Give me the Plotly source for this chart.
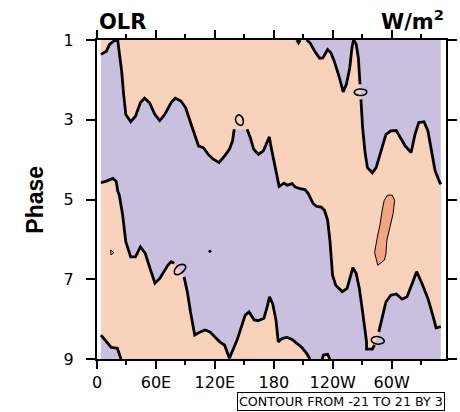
import plotly.graph_objects as go

# ---- composite OLR anomaly (W/m2) by MJO phase: zero-contour geometry (lon, phase) ----
LON_EDGE = [4.0, 350.0]          # longitudes covered by the field
PHASE_EDGE = [1.0, 9.0]

# north-west corner branch (touches the top edge)
c0_lon = [4.0, 9.6, 12.8, 16.2, 18.5]
c0_ph = [1.36, 1.28, 1.11, 1.03, 1.0]

# main diagonal zero line, three pieces (broken around small closed contours)
l1a_lon = [18.5, 21.1, 22.7, 25.1, 27.1, 29.3, 34.3, 39.2, 44.2, 48.4, 53.4, 59.0, 63.9, 68.9,
           75.5, 79.7, 85.4, 90.3, 95.2, 100.2, 103.4, 108.4, 113.3, 118.3, 124.2, 129.8, 134.8,
           138.0, 139.7]
l1a_ph = [1.0, 1.01, 1.28, 1.78, 2.36, 2.87, 3.05, 2.91, 2.57, 2.46, 2.57, 2.87, 3.02, 2.87,
          2.57, 2.46, 2.53, 2.70, 3.07, 3.45, 3.66, 3.70, 3.87, 3.99, 4.07, 3.91, 3.74,
          3.53, 3.24]
l1b_lon = [152.8, 156.1, 159.5, 164.4, 169.3, 174.3, 175.5, 177.2, 180.5, 183.8, 185.4, 190.4,
           193.6, 198.6, 201.9, 206.9, 211.8, 215.1, 220.0, 223.3, 228.2, 231.6, 234.8, 237.1,
           239.1, 239.8, 243.0, 249.7, 254.6, 260.5, 263.8, 267.1, 270.4, 272.7, 274.4, 274.4,
           280.3, 282.6]
l1b_ph = [3.24, 3.45, 3.74, 3.87, 3.78, 3.49, 3.43, 3.68, 4.10, 4.52, 4.67, 4.59,
          4.64, 4.60, 4.69, 4.73, 4.75, 4.85, 5.10, 5.17, 5.19, 5.27, 5.52, 6.02,
          6.60, 6.90, 7.15, 7.31, 7.23, 6.71, 6.85, 7.23, 7.82, 8.32, 8.57, 8.75,
          8.75, 8.65]
l1c_lon = [286.9, 290.2, 294.1, 299.1, 304.7, 310.6, 315.6, 320.5, 325.4, 330.4, 336.9, 341.8,
           345.2, 350.0]
l1c_ph = [8.32, 7.94, 7.57, 7.40, 7.37, 7.50, 7.44, 7.13, 6.81, 7.08, 7.48, 7.90, 8.22, 8.19]

# north-east zero line (pocket + spike to the top, then east to the edge)
l2a_lon = [213.4, 216.8, 221.7, 226.6, 229.9, 234.8, 238.1, 241.5, 246.4, 250.6, 253.9, 257.3,
           259.5, 261.2, 263.8, 266.1, 267.1, 267.8]
l2a_ph = [1.0, 1.07, 1.28, 1.46, 1.45, 1.24, 1.32, 1.53, 1.91, 2.30, 2.11, 1.70,
          1.20, 1.0, 1.10, 1.45, 1.86, 2.11]
l2b_lon = [268.7, 270.4, 272.7, 275.3, 280.3, 284.2, 289.2, 294.1, 299.1, 304.7, 308.9, 313.9,
           319.8, 323.7, 327.6, 332.9, 336.9, 340.2, 344.2, 348.4, 350.0]
l2b_ph = [2.49, 3.20, 3.78, 4.20, 4.33, 4.20, 3.78, 3.37, 3.28, 3.27, 3.45, 3.66,
          3.82, 3.37, 3.07, 3.05, 3.28, 3.70, 4.28, 4.54, 4.62]

# small negative notch at the top edge
notch_lon = [203.5, 205.2, 206.9]
notch_ph = [1.0, 1.07, 1.0]

# south-west zero line
l3a_lon = [4.0, 9.6, 16.2, 19.5, 21.1, 22.7, 26.1, 29.3, 34.3, 39.2, 44.2, 49.1, 54.0, 59.0,
           63.9, 68.9, 72.1, 75.5, 78.7]
l3a_ph = [4.58, 4.54, 4.47, 4.54, 4.79, 4.89, 5.39, 6.06, 6.44, 6.44, 6.19, 6.35, 6.73, 7.10,
          6.98, 6.77, 6.65, 6.56, 6.60]
l3b_lon = [88.6, 91.9, 95.2, 99.5, 105.1, 110.1, 115.0, 119.9, 124.9, 129.8, 134.8]
l3b_ph = [6.94, 7.31, 7.82, 8.40, 8.32, 8.27, 8.32, 8.44, 8.57, 8.65, 8.98]

# southern positive wedge
l4_lon = [134.8, 142.7, 147.6, 150.9, 154.8, 160.0, 164.0, 169.9, 173.3, 175.6, 178.8, 182.2,
          184.5, 188.7, 193.6, 198.6, 203.5, 208.5, 213.4, 216.8]
l4_ph = [8.98, 8.52, 8.11, 7.90, 7.82, 8.02, 8.04, 7.98, 7.69, 7.44, 7.61, 8.02,
         8.57, 8.48, 8.46, 8.51, 8.61, 8.71, 8.86, 9.0]

# south-west corner negative patch
v2_lon = [4.0, 9.6, 14.5, 20.7, 24.4]
v2_ph = [8.40, 8.57, 8.71, 8.73, 9.0]

# small positive bump on the bottom edge
bump_lon = [229.2, 230.6, 234.8, 237.1]
bump_ph = [9.0, 8.90, 8.88, 9.0]

# +3 W/m2 contour over the western hemisphere
hi_lon = [292.4, 295.8, 300.5, 303.0, 301.5, 298.1, 295.1, 294.1, 292.6, 285.9, 282.6, 285.2,
          288.2, 290.2]
hi_ph = [5.02, 4.89, 4.89, 5.02, 5.35, 5.74, 6.02, 6.37, 6.52, 6.65, 6.33, 5.97, 5.62, 5.29]

# small closed zero contours
e1_lon = [141.3, 143.6, 146.9, 148.9, 148.2, 145.6, 142.3, 141.0]
e1_ph = [2.95, 2.88, 2.91, 3.02, 3.12, 3.14, 3.08, 3.00]
e2_lon = [261.8, 263.8, 268.4, 273.7, 274.6, 272.7, 267.7, 263.2]
e2_ph = [2.31, 2.25, 2.23, 2.26, 2.31, 2.37, 2.39, 2.36]
e3_lon = [78.7, 81.0, 85.4, 89.6, 90.3, 87.6, 83.0, 79.4]
e3_ph = [6.81, 6.69, 6.63, 6.65, 6.71, 6.81, 6.88, 6.87]
e4_lon = [279.3, 281.6, 286.9, 291.4, 292.4, 289.2, 283.5, 280.0]
e4_ph = [8.51, 8.45, 8.44, 8.50, 8.57, 8.62, 8.62, 8.57]
tri_lon = [13.8, 17.2, 14.2]
tri_ph = [6.27, 6.33, 6.39]
dot_lon = [115.0]
dot_ph = [6.30]

# axis labelling
x_ticks = [0, 60, 120, 180, 240, 300]
x_labels = ["0", "60E", "120E", "180", "120W", "60W"]
x_minor = [30, 90, 150, 210, 270, 330]
y_ticks = [1, 3, 5, 7, 9]

NEG = "#c9c0df"
POS = "#f9d2bb"
POS3 = "#f3a581"

fig = go.Figure()


def patch(lons, phs, color):
    fig.add_trace(go.Scatter(x=lons, y=phs, mode="lines", fill="toself", fillcolor=color,
                             line=dict(width=0, color=color), hoverinfo="skip",
                             showlegend=False))


def contour_line(segments, width, closed=False, smooth=False):
    xs, ys = [], []
    for lo, ph in segments:
        lo, ph = list(lo), list(ph)
        if closed:
            lo, ph = lo + lo[:1], ph + ph[:1]
        xs += lo + [None]
        ys += ph + [None]
    fig.add_trace(go.Scatter(x=xs, y=ys, mode="lines",
                             line=dict(color="black", width=width,
                                       shape="spline" if smooth else "linear"),
                             hoverinfo="skip", showlegend=False))


# negative background over the data domain
patch([LON_EDGE[0], LON_EDGE[1], LON_EDGE[1], LON_EDGE[0]],
      [PHASE_EDGE[0], PHASE_EDGE[0], PHASE_EDGE[1], PHASE_EDGE[1]], NEG)

# positive regions
patch(c0_lon + [LON_EDGE[0]], c0_ph + [PHASE_EDGE[0]], POS)
patch(l2a_lon + l2b_lon + l1c_lon[::-1] + l1b_lon[::-1] + l1a_lon[::-1],
      l2a_ph + l2b_ph + l1c_ph[::-1] + l1b_ph[::-1] + l1a_ph[::-1], POS)
patch(l3a_lon + l3b_lon + [l3b_lon[-1]] + v2_lon[::-1],
      l3a_ph + l3b_ph + [PHASE_EDGE[1]] + v2_ph[::-1], POS)
patch(l4_lon, l4_ph, POS)
patch(bump_lon, bump_ph, POS)
patch(notch_lon, notch_ph, NEG)
patch(hi_lon, hi_ph, POS3)

# zero contour lines
contour_line([(c0_lon + l1a_lon[1:], c0_ph + l1a_ph[1:]), (l1b_lon, l1b_ph), (l1c_lon, l1c_ph),
              (l2a_lon, l2a_ph), (l2b_lon, l2b_ph), (l3a_lon, l3a_ph),
              (l3b_lon + l4_lon[1:], l3b_ph + l4_ph[1:]), (v2_lon, v2_ph),
              (bump_lon, bump_ph), (notch_lon, notch_ph)], 2.8)
contour_line([(e1_lon, e1_ph), (e2_lon, e2_ph), (e3_lon, e3_ph), (e4_lon, e4_ph)], 1.6,
             closed=True, smooth=True)
contour_line([(tri_lon, tri_ph)], 1.0, closed=True)
contour_line([(hi_lon, hi_ph)], 1.0, closed=True)
fig.add_trace(go.Scatter(x=dot_lon, y=dot_ph, mode="markers",
                         marker=dict(color="black", size=3), hoverinfo="skip",
                         showlegend=False))

tick_font = dict(family="DejaVu Sans", size=16, color="black")
fig.update_xaxes(range=[0, 355.3], tickvals=x_ticks, ticktext=x_labels,
                 ticks="outside", ticklen=8, tickwidth=1.5, tickcolor="black",
                 minor=dict(tickvals=x_minor, ticks="outside", ticklen=4, tickwidth=1.5,
                            tickcolor="black"),
                 showline=True, linecolor="black", linewidth=2, mirror="ticks",
                 showgrid=False, zeroline=False, tickfont=tick_font)
fig.update_yaxes(range=[9, 1], tickvals=y_ticks, ticktext=[str(v) for v in y_ticks],
                 ticks="outside", ticklen=9, tickwidth=1.5, tickcolor="black",
                 ticklabelstandoff=9,
                 showline=True, linecolor="black", linewidth=2, mirror="ticks",
                 showgrid=False, zeroline=False, tickfont=tick_font)

fig.add_annotation(text="OLR", xref="paper", yref="paper", x=0, y=1,
                   xanchor="left", yanchor="bottom", yshift=4, showarrow=False,
                   font=dict(family="DejaVu Sans", size=21, color="black", weight="bold"))
fig.add_annotation(text="W/m<sup>2</sup>", xref="paper", yref="paper", x=1, y=1,
                   xanchor="right", yanchor="bottom", yshift=4, showarrow=False,
                   font=dict(family="DejaVu Sans", size=21, color="black", weight="bold"))
fig.add_annotation(text="Phase", xref="paper", yref="paper", x=-0.18, y=0.5,
                   xanchor="center", yanchor="middle", textangle=-90, showarrow=False,
                   font=dict(family="Liberation Sans", size=23, color="black", weight="bold"))
fig.add_annotation(text="CONTOUR FROM -21 TO 21 BY 3", xref="paper", yref="paper",
                   x=0.9964, y=-0.103, xanchor="right", yanchor="top", showarrow=False,
                   bordercolor="black", borderwidth=1, borderpad=1, bgcolor="white",
                   font=dict(family="DejaVu Sans", size=12.7, color="black"))

fig.update_layout(width=460, height=412, margin=dict(l=97, r=3, t=40, b=53),
                  plot_bgcolor="white", paper_bgcolor="white", showlegend=False)

fig.write_html("out.html")
